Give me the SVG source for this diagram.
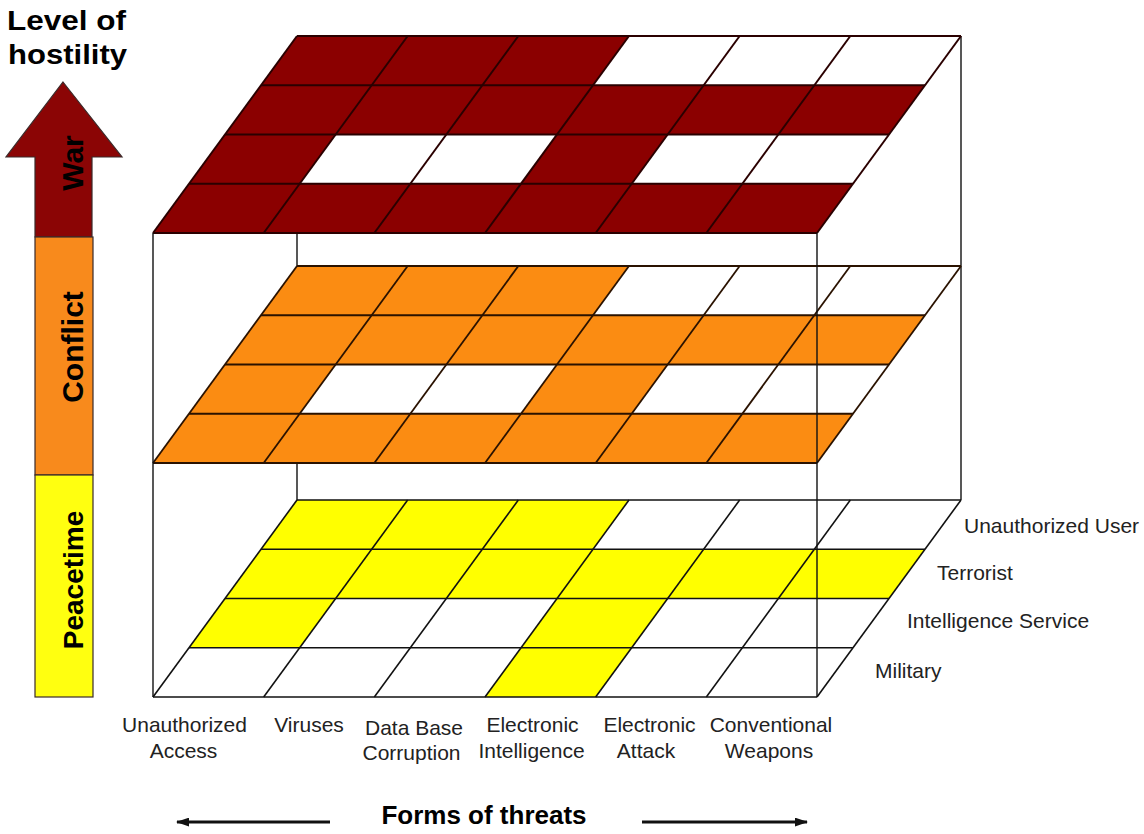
<svg xmlns="http://www.w3.org/2000/svg" width="1144" height="834" viewBox="0 0 1144 834">
<style>
  .edge{stroke:#111;stroke-width:1.4;fill:none}
  .gl line{vector-effect:non-scaling-stroke;fill:none}
  .lbl{font-family:"Liberation Sans",Arial,Helvetica,sans-serif;font-size:21px;fill:#222}
  .mid{text-anchor:middle}
  .bold{font-family:"Liberation Sans",Arial,Helvetica,sans-serif;font-weight:bold;fill:#000}
  .bar{stroke:#3a2a2a;stroke-width:1.2}
  .thr{stroke:#111;stroke-width:3;fill:none}
</style>
<defs>
  <g id="grid" class="gl">
    <line x1="0" y1="0" x2="0" y2="4"/>
    <line x1="1" y1="0" x2="1" y2="4"/>
    <line x1="2" y1="0" x2="2" y2="4"/>
    <line x1="3" y1="0" x2="3" y2="4"/>
    <line x1="4" y1="0" x2="4" y2="4"/>
    <line x1="5" y1="0" x2="5" y2="4"/>
    <line x1="6" y1="0" x2="6" y2="4"/>
    <line x1="0" y1="0" x2="6" y2="0"/>
    <line x1="0" y1="1" x2="6" y2="1"/>
    <line x1="0" y1="2" x2="6" y2="2"/>
    <line x1="0" y1="3" x2="6" y2="3"/>
    <line x1="0" y1="4" x2="6" y2="4"/>
  </g>
  <g id="cells-high">
    <rect x="0" y="0" width="3" height="1"/>
    <rect x="0" y="1" width="6" height="1"/>
    <rect x="0" y="2" width="1" height="1"/>
    <rect x="3" y="2" width="1" height="1"/>
    <rect x="0" y="3" width="6" height="1"/>
  </g>
  <g id="cells-peace">
    <rect x="0" y="0" width="3" height="1"/>
    <rect x="0" y="1" width="6" height="1"/>
    <rect x="0" y="2" width="1" height="1"/>
    <rect x="3" y="2" width="1" height="1"/>
    <rect x="3" y="3" width="1" height="1"/>
  </g>
  <rect id="plane" x="0" y="0" width="6" height="4"/>
  <marker id="ah" viewBox="0 0 12 8" refX="11" refY="4" markerWidth="4.5" markerHeight="3" orient="auto">
    <path d="M0,0 L12,4 L0,8 z" fill="#111"/>
  </marker>
</defs>

<rect width="1144" height="834" fill="#fff"/>

<!-- back vertical edges of the box -->
<g id="back-edges">
  <line class="edge" x1="297" y1="36" x2="297" y2="500"/>
  <line class="edge" x1="961" y1="36" x2="961" y2="500"/>
</g>

<g id="layer-peacetime" transform="matrix(110.667 0 -36 49.25 297 500)">
  <use href="#plane" fill="#fff"/>
  <use href="#cells-peace" fill="#ffff00"/>
  <use href="#grid" stroke="#111" stroke-width="1.6"/>
</g>

<g id="layer-conflict" transform="matrix(110.667 0 -36 49.25 297 266)">
  <use href="#plane" fill="#fff"/>
  <use href="#cells-high" fill="#fb8c12"/>
  <use href="#grid" stroke="#2a1200" stroke-width="1.8"/>
</g>

<g id="layer-war" transform="matrix(110.667 0 -36 49.25 297 36)">
  <use href="#plane" fill="#fff"/>
  <use href="#cells-high" fill="#8b0000"/>
  <use href="#grid" stroke="#2a0000" stroke-width="2"/>
</g>

<!-- front vertical edges of the box -->
<g id="front-edges">
  <line class="edge" x1="153" y1="233" x2="153" y2="697"/>
  <line class="edge" x1="817" y1="233" x2="817" y2="697"/>
</g>

<!-- hostility axis -->
<g id="hostility-axis">
  <text class="bold" x="7" y="30" font-size="27" textLength="119" lengthAdjust="spacingAndGlyphs">Level of</text>
  <text class="bold" x="8" y="64" font-size="27" textLength="119" lengthAdjust="spacingAndGlyphs">hostility</text>
  <polygon class="bar" points="63,82 122,157 92,157 92,237 35,237 35,157 6,157" fill="#8b0505"/>
  <rect class="bar" x="35" y="237" width="58" height="238" fill="#f88a1c"/>
  <rect class="bar" x="35" y="475" width="58" height="222" fill="#ffff10"/>
  <text class="bold mid" font-size="30" transform="translate(83,163) rotate(-90)">War</text>
  <text class="bold mid" font-size="30" transform="translate(83,347) rotate(-90)">Conflict</text>
  <text class="bold mid" font-size="28" transform="translate(83,580) rotate(-90)">Peacetime</text>
</g>

<!-- threat labels -->
<g id="threat-labels">
  <text class="lbl mid" x="184.5" y="732">Unauthorized</text>
  <text class="lbl mid" x="183.5" y="758">Access</text>
  <text class="lbl mid" x="309" y="732">Viruses</text>
  <text class="lbl mid" x="414" y="735">Data Base</text>
  <text class="lbl mid" x="411.5" y="760">Corruption</text>
  <text class="lbl mid" x="532.5" y="732">Electronic</text>
  <text class="lbl mid" x="531.5" y="758">Intelligence</text>
  <text class="lbl mid" x="649.5" y="732">Electronic</text>
  <text class="lbl mid" x="646" y="758">Attack</text>
  <text class="lbl mid" x="771" y="732">Conventional</text>
  <text class="lbl mid" x="769" y="758">Weapons</text>
</g>

<!-- actor labels -->
<g id="actor-labels">
  <text class="lbl" x="964" y="533">Unauthorized User</text>
  <text class="lbl" x="937" y="580">Terrorist</text>
  <text class="lbl" x="907" y="628">Intelligence Service</text>
  <text class="lbl" x="875" y="678">Military</text>
</g>

<!-- forms of threats axis -->
<g id="threat-axis">
  <text class="bold mid" x="484" y="824" font-size="26">Forms of threats</text>
  <path class="thr" d="M330,822 L177,822" marker-end="url(#ah)"/>
  <path class="thr" d="M642,822 L807,822" marker-end="url(#ah)"/>
</g>
</svg>
